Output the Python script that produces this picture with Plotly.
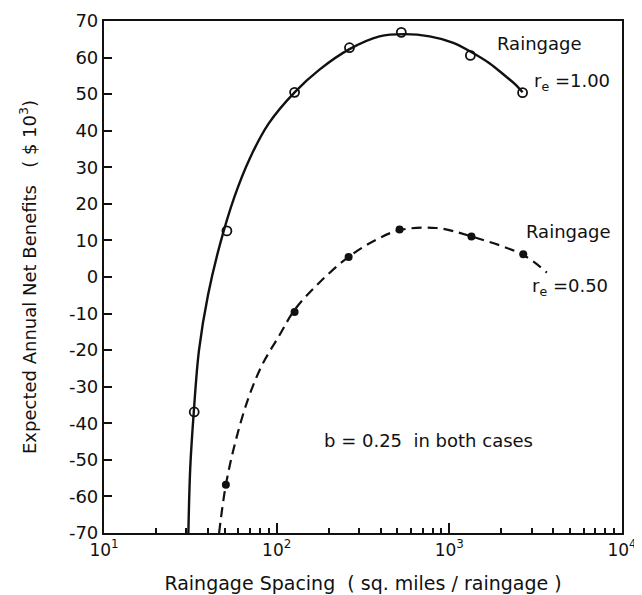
import plotly.graph_objects as go

# Observed points, r_e = 1.00 (open circles)
pts1_x = [33.3, 51.5, 127, 264, 527, 1324, 2656]
pts1_y = [-36.9, 12.6, 50.5, 62.7, 66.9, 60.6, 50.4]

# Observed points, r_e = 0.50 (filled dots)
pts2_x = [50.8, 127, 261, 515, 1343, 2680]
pts2_y = [-56.8, -9.6, 5.5, 13.0, 11.1, 6.2]

# Fitted curve, r_e = 1.00 (solid)
curve1_x = [30.8, 31.6, 33.1, 35.5, 40, 47, 57, 70, 90, 127, 177, 264, 394, 551, 769, 1045, 1330, 1714, 2094, 2393, 2656]
curve1_y = [-70, -52, -37, -20, -5, 9, 22, 32.5, 42, 50.5, 56.7, 62.3, 65.8, 66.4, 65.8, 64.1, 61.6, 58.4, 55.1, 52.8, 50.5]

# Fitted curve, r_e = 0.50 (dashed)
curve2_x = [46.4, 50.8, 58.1, 69.3, 82.9, 103.6, 127, 177, 261, 370, 515, 841, 1343, 2680, 3670]
curve2_y = [-70, -56.8, -44.5, -32.5, -23.8, -16.0, -9.0, -1.5, 5.5, 10.0, 12.8, 13.4, 11.1, 6.0, 1.2]

y_ticks = list(range(-70, 71, 10))
y_tick_text = ["-70", "-60", "-50", "-40", "-30", "-20", "-10", "0", "10", "20", "30", "40", "50", "60", "70"]
x_ticks = [10, 100, 1000, 10000]
x_tick_text = ["10<sup>1</sup>", "10<sup>2</sup>", "10<sup>3</sup>", "10<sup>4</sup>"]

ink = "#111111"
font_family = "DejaVu Sans, Noto Sans, sans-serif"

fig = go.Figure()
fig.add_trace(go.Scatter(x=curve1_x, y=curve1_y, mode="lines",
                         line=dict(color=ink, width=2.4, shape="spline", smoothing=1.0),
                         showlegend=False, hoverinfo="skip"))
fig.add_trace(go.Scatter(x=curve2_x, y=curve2_y, mode="lines",
                         line=dict(color=ink, width=2.2, dash="10px,6px", shape="spline", smoothing=1.0),
                         showlegend=False, hoverinfo="skip"))
fig.add_trace(go.Scatter(x=pts1_x, y=pts1_y, mode="markers",
                         marker=dict(symbol="circle-open", size=9, color=ink, line=dict(width=1.8, color=ink)),
                         showlegend=False))
fig.add_trace(go.Scatter(x=pts2_x, y=pts2_y, mode="markers",
                         marker=dict(symbol="circle", size=8, color=ink),
                         showlegend=False))

ann_font = dict(family=font_family, size=18, color=ink)
fig.add_annotation(x=3.524, y=63.8, xref="x", yref="y", text="Raingage", showarrow=False,
                   xanchor="center", yanchor="middle", font=ann_font)
fig.add_annotation(x=3.478, y=53.2, xref="x", yref="y", text="r<sub>e</sub> =1.00", showarrow=False,
                   xanchor="left", yanchor="middle", font=ann_font)
fig.add_annotation(x=3.690, y=12.4, xref="x", yref="y", text="Raingage", showarrow=False,
                   xanchor="center", yanchor="middle", font=ann_font)
fig.add_annotation(x=3.466, y=-2.8, xref="x", yref="y", text="r<sub>e</sub> =0.50", showarrow=False,
                   xanchor="left", yanchor="middle", font=ann_font)
fig.add_annotation(x=2.877, y=-44.8, xref="x", yref="y", text="b = 0.25  in both cases", showarrow=False,
                   xanchor="center", yanchor="middle", font=ann_font)

fig.update_xaxes(type="log", range=[1, 4], tickvals=x_ticks, ticktext=x_tick_text,
                 ticks="inside", ticklen=10, tickwidth=1.8, tickcolor=ink,
                 minor=dict(ticks="inside", ticklen=5, tickwidth=1.5, tickcolor=ink, dtick="D1", showgrid=False),
                 showline=True, linewidth=2.2, linecolor=ink, mirror=True,
                 showgrid=False, zeroline=False, automargin=False,
                 tickfont=dict(family=font_family, size=17, color=ink),
                 title=dict(text="Raingage Spacing  ( sq. miles / raingage )",
                            font=dict(family=font_family, size=19, color=ink), standoff=18))
fig.update_yaxes(range=[-70, 70], tickvals=y_ticks, ticktext=y_tick_text,
                 ticks="inside", ticklen=8, tickwidth=1.8, tickcolor=ink,
                 showline=True, linewidth=2.2, linecolor=ink, mirror=True,
                 showgrid=False, zeroline=False, automargin=False,
                 tickfont=dict(family=font_family, size=18, color=ink),
                 title=dict(text="Expected Annual Net Benefits   ( $ 10<sup>3</sup>)",
                            font=dict(family=font_family, size=18, color=ink), standoff=28))

# page body has an 8px default margin, so the figure is sized to fit the 642x595 window
fig.update_layout(width=634, height=587, margin=dict(l=96, r=20, t=13, b=62),
                  plot_bgcolor="white", paper_bgcolor="white",
                  font=dict(family=font_family, color=ink))

fig.write_html("out.html")
